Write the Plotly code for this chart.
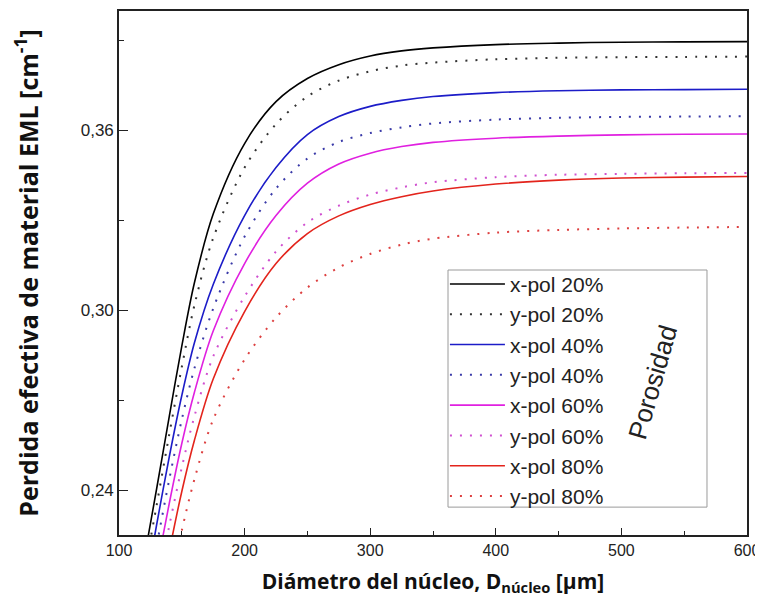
import plotly.graph_objects as go

# ---- data ----
diametro = [120, 130, 140, 150, 160, 175, 200, 225, 250, 275, 300, 325, 350, 400, 450, 500, 550, 600]

xpol_20 = [0.217, 0.2405, 0.2645, 0.288, 0.309, 0.332, 0.3555, 0.3695, 0.3772, 0.3818, 0.3847, 0.3864, 0.3874, 0.3885, 0.3890, 0.3893, 0.3894, 0.3895]
ypol_20 = [0.212, 0.235, 0.2585, 0.281, 0.3015, 0.3240, 0.3475, 0.3620, 0.3712, 0.3765, 0.3796, 0.3815, 0.3825, 0.3836, 0.3841, 0.3843, 0.3844, 0.3845]
xpol_40 = [0.205, 0.2285, 0.251, 0.2715, 0.289, 0.3085, 0.3315, 0.3475, 0.3585, 0.3645, 0.3679, 0.3699, 0.3712, 0.3725, 0.3731, 0.3734, 0.3735, 0.3736]
ypol_40 = [0.199, 0.2215, 0.2435, 0.2635, 0.2805, 0.3005, 0.3245, 0.3405, 0.3505, 0.3560, 0.3590, 0.3609, 0.3622, 0.3635, 0.3641, 0.3644, 0.3645, 0.3646]
xpol_60 = [0.190, 0.2135, 0.2355, 0.2555, 0.2725, 0.293, 0.3155, 0.3315, 0.3423, 0.3487, 0.3523, 0.3545, 0.3559, 0.3573, 0.3580, 0.3584, 0.3586, 0.3587]
ypol_60 = [0.184, 0.2065, 0.228, 0.2475, 0.2645, 0.2845, 0.3045, 0.3195, 0.3292, 0.3348, 0.3385, 0.3409, 0.3426, 0.3443, 0.3451, 0.3454, 0.3456, 0.3457]
xpol_80 = [0.174, 0.1975, 0.2195, 0.2395, 0.2565, 0.277, 0.2995, 0.3155, 0.3255, 0.3314, 0.3352, 0.3378, 0.3397, 0.3420, 0.3433, 0.3440, 0.3443, 0.3445]
ypol_80 = [0.161, 0.1845, 0.2065, 0.2265, 0.2435, 0.2635, 0.2835, 0.2975, 0.3075, 0.3142, 0.3187, 0.3218, 0.3238, 0.3258, 0.3267, 0.3272, 0.3275, 0.3277]

nombres = ["x-pol 20%", "y-pol 20%", "x-pol 40%", "y-pol 40%",
           "x-pol 60%", "y-pol 60%", "x-pol 80%", "y-pol 80%"]
series = [xpol_20, ypol_20, xpol_40, ypol_40, xpol_60, ypol_60, xpol_80, ypol_80]
colores = ["#000000", "#333333", "#1c1cc8", "#3a3aa8",
           "#e020e0", "#d050d0", "#e3241c", "#dd4040"]
estilos = ["solid", "2px,8px", "solid", "2px,8px", "solid", "2px,8px", "solid", "2px,8px"]

fig = go.Figure()
for i, (nm, ys, c, d) in enumerate(zip(nombres, series, colores, estilos)):
    fig.add_trace(go.Scatter(
        x=diametro, y=ys, name=nm, mode="lines",
        line=dict(color=c, width=1.6 if d == "solid" else 2.0, dash=d, shape="spline", smoothing=0.9),
    ))

# page body adds an 8px offset; the figure is sized so the plot lands where the reference has it
fig.update_layout(
    width=755, height=594,
    margin=dict(l=111, r=16, t=1, b=67),
    paper_bgcolor="white", plot_bgcolor="white",
    separators=",.",
    showlegend=True,
    legend=dict(
        x=0.519, y=0.5176, xanchor="left", yanchor="top",
        bgcolor="rgba(0,0,0,0)", borderwidth=0, itemwidth=55,
        font=dict(family="Liberation Sans, Arial", size=21, color="#222"),
        tracegroupgap=0,
    ),
    font=dict(family="Liberation Sans, Arial", color="#222"),
)

fig.update_xaxes(
    range=[100, 600], tickvals=[100, 200, 300, 400, 500, 600],
    ticks="inside", ticklen=7, tickwidth=1.2, tickcolor="#222",
    minor=dict(dtick=50, ticks="inside", ticklen=4, tickwidth=1.2, tickcolor="#222"),
    showline=True, linecolor="#222", linewidth=1.6, mirror=True,
    showgrid=False, zeroline=False,
    tickfont=dict(family="Liberation Sans, Arial", size=16, color="#222"),
    title=dict(text="Diámetro del núcleo, D<sub>núcleo</sub> [μm]",
               font=dict(family="Open Sans", size=21, color="#111", weight="bold"), standoff=16),
)
fig.update_yaxes(
    range=[0.225, 0.3997], tickvals=[0.24, 0.30, 0.36], tickformat=".2f",
    ticks="inside", ticklen=9, tickwidth=1.2, tickcolor="#222",
    minor=dict(tickvals=[0.27, 0.33, 0.39], ticks="inside", ticklen=5, tickwidth=1.2, tickcolor="#222"),
    showline=True, linecolor="#222", linewidth=1.6, mirror=True,
    showgrid=False, zeroline=False,
    tickfont=dict(family="Liberation Sans, Arial", size=17, color="#222"),
    title=dict(text="Perdida efectiva de material EML [cm<sup>-1</sup>]",
               font=dict(family="Open Sans", size=25, color="#111", weight="bold"), standoff=40),
)

# legend frame (extends to include the "Porosidad" label)
fig.add_shape(type="rect", xref="paper", yref="paper",
              x0=0.5239, x1=0.9363, y0=0.0532, y1=0.5057,
              line=dict(color="#9a9a9a", width=1), fillcolor="white", layer="below")

fig.add_annotation(text="Porosidad", xref="paper", yref="paper",
                   x=0.850, y=0.292, xanchor="center", yanchor="middle", showarrow=False,
                   textangle=-74, font=dict(family="Liberation Sans, Arial", size=26, color="#222"))

fig.write_html("out.html")
